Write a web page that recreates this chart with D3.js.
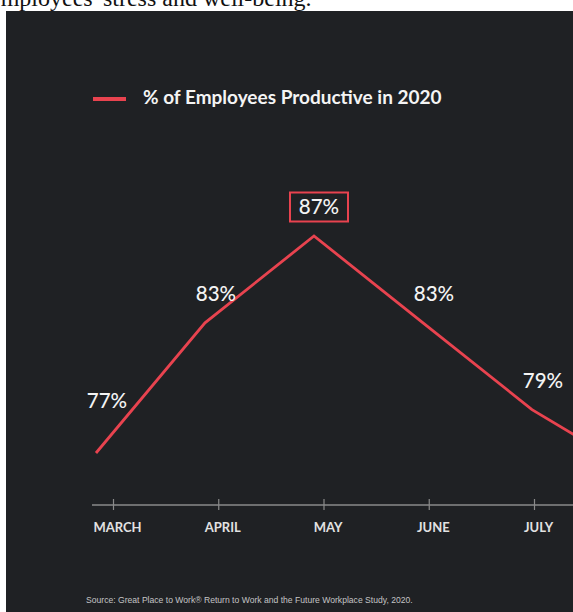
<!DOCTYPE html>
<html>
<head>
<meta charset="utf-8">
<script src="https://cdn.jsdelivr.net/npm/d3@7"></script>
<style>
  html, body { margin: 0; padding: 0; background: #ffffff; }
  svg { display: block; }
</style>
</head>
<body>
<svg id="chart" width="573" height="612"></svg>
<script>
// ---- data ----
const months = ["MARCH", "APRIL", "MAY", "JUNE", "JULY", "AUGUST"];
const visibleTickMonths = ["MARCH", "APRIL", "MAY", "JUNE", "JULY"];
const productive = [77, 83, 87, 83, 79, 76];
const valueLabels = ["77%", "83%", "87%", "83%", "79%", null];
const highlightMonth = "MAY";
const legendLabel = "% of Employees Productive in 2020";
const sourceText = "Source: Great Place to Work\u00AE Return to Work and the Future Workplace Study, 2020.";
const headerText = "employees' stress and well-being.";

// ---- setup ----
const W = 573, H = 612;
const RED = "#e8434f";
const BG = "#1f2124";
const svg = d3.select("#chart");

// header (cut) text on white
svg.append("text")
  .attr("x", -10).attr("y", 6)
  .attr("font-family", "'Liberation Serif', 'DejaVu Serif', serif")
  .attr("font-size", 24)
  .attr("fill", "#111")
  .text(headerText);

// dark panel
svg.append("rect")
  .attr("x", 6).attr("y", 11)
  .attr("width", W - 6).attr("height", H - 11)
  .attr("fill", BG);

// legend
svg.append("line")
  .attr("x1", 93).attr("x2", 126).attr("y1", 99).attr("y2", 99)
  .attr("stroke", RED).attr("stroke-width", 4);
svg.append("text")
  .attr("x", 143).attr("y", 104)
  .attr("font-family", "Lato, 'Open Sans', sans-serif")
  .attr("font-weight", 700)
  .attr("font-size", 19)
  .attr("fill", "#f4f4f4")
  .text(legendLabel);

// scales
const xAxisScale = d3.scalePoint().domain(months).range([113, 113 + 5 * 105.25]);
const xLine = d3.scalePoint().domain(months).range([96, 96 + 5 * 109]);
const y = d3.scaleLinear().domain([77, 87]).range([453, 236]);

// axis
const axisY = 505;
svg.append("line")
  .attr("x1", 92).attr("x2", W).attr("y1", axisY).attr("y2", axisY)
  .attr("stroke", "#8a8a8a").attr("stroke-width", 1.5);

const axisG = svg.append("g")
  .attr("transform", `translate(0,${axisY})`)
  .call(d3.axisBottom(xAxisScale).tickValues(visibleTickMonths)
    .tickSizeInner(5).tickSizeOuter(0).tickPadding(0));
axisG.select(".domain").remove();
axisG.selectAll(".tick line")
  .attr("y1", -6).attr("y2", 5)
  .attr("stroke", "#8a8a8a").attr("stroke-width", 1.2);
axisG.selectAll(".tick text")
  .attr("y", 27).attr("dy", 0).attr("dx", 4)
  .attr("font-family", "Lato, 'Open Sans', sans-serif")
  .attr("font-weight", 700)
  .attr("font-size", 13)
  .attr("fill", "#e2e2e2");

// line
const data = months.map((m, i) => ({ m, v: productive[i], label: valueLabels[i] }));
svg.append("path")
  .datum(data)
  .attr("d", d3.line().x(d => xLine(d.m)).y(d => y(d.v)))
  .attr("fill", "none")
  .attr("stroke", RED)
  .attr("stroke-width", 2.8)
  .attr("stroke-linejoin", "miter");

// value labels
data.forEach((d, i) => {
  if (!d.label) return;
  const isHi = d.m === highlightMonth;
  const lx = xLine(d.m) + (isHi ? 5 : 11);
  const ly = y(d.v) + (i === 0 ? -45 : -22);
  if (isHi) {
    svg.append("rect")
      .attr("x", lx - 29).attr("y", ly - 21.5)
      .attr("width", 58).attr("height", 29)
      .attr("fill", "none")
      .attr("stroke", RED).attr("stroke-width", 2);
  }
  svg.append("text")
    .attr("x", lx).attr("y", ly)
    .attr("text-anchor", "middle")
    .attr("font-family", "Lato, 'Open Sans', sans-serif")
    .attr("font-weight", 500)
    .attr("font-size", 20.5)
    .attr("fill", "#f4f4f4")
    .text(d.label);
});

// source
svg.append("text")
  .attr("x", 86).attr("y", 603)
  .attr("font-family", "'Liberation Sans', Arial, sans-serif")
  .attr("font-size", 8.6)
  .attr("fill", "#c4c4c4")
  .text(sourceText);
</script>
</body>
</html>
